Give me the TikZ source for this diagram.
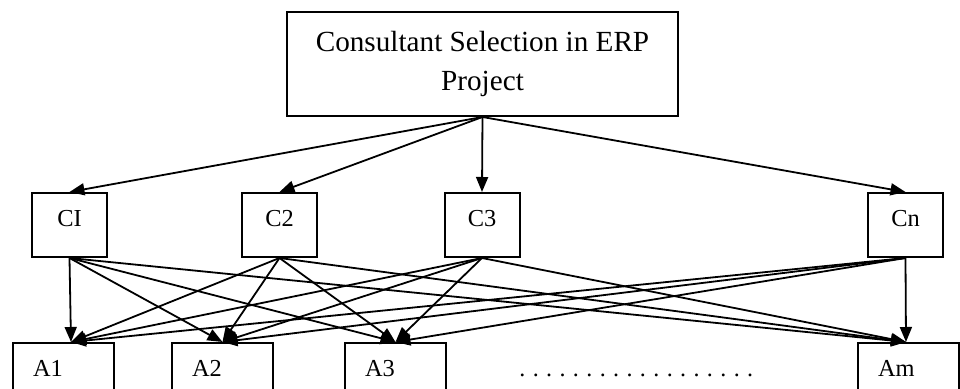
\documentclass[tikz,border=0pt]{standalone}
\usepackage{fontspec}
\setmainfont{Liberation Serif}
\usetikzlibrary{arrows.meta, positioning}
\tikzset{
  goalbox/.style={
    draw,
    line width=1pt,
    align=center,
    font=\fontsize{14.6}{19.5}\selectfont,
    minimum width=195.5pt,
    minimum height=52pt
  },
  critbox/.style={
    draw,
    line width=1pt,
    font=\fontsize{12.2}{14}\selectfont,
    text height=8pt,
    text depth=6pt,
    minimum width=37.5pt,
    minimum height=32pt
  },
  altbox/.style={
    draw,
    line width=1pt,
    anchor=north west,
    align=left,
    font=\fontsize{12.2}{14}\selectfont,
    inner xsep=10pt,
    text width=30.5pt,
    text height=8pt,
    text depth=0pt,
    minimum height=26pt
  },
  flowarrow/.style={
    -{Triangle[length=7.5pt, width=6pt]},
    line width=0.9pt
  }
}

\begin{document}
\begin{tikzpicture}[x=0.5pt, y=-0.5pt]

  \useasboundingbox (0,0) rectangle (960,389);

  % Goal
  \node (goal) [goalbox] at (482.5,64) {Consultant Selection in ERP\\Project};

  % Criteria
  \node (c1) [critbox] at (69.5,225) {CI};
  \node (c2) [critbox] at (279.5,225) {C2};
  \node (c3) [critbox] at (482,225) {C3};
  \node (cn) [critbox] at (905.5,225) {Cn};

  % Alternatives
  \node (a1) [altbox] at (12,342) {A1};
  \node (a2) [altbox] at (171,342) {A2};
  \node (a3) [altbox] at (344,342) {A3};
  \node (am) [altbox] at (857,342) {Am};

  \node (dots) [anchor=base west, inner sep=0pt, font=\fontsize{12}{14}\selectfont] at (519,377)
    {\foreach \i in {1,...,18}{.\hspace{3.7pt}}};

  % Entry points on the alternatives
  \coordinate (a1in) at ([xshift=3.75pt]a1.north);
  \coordinate (a2in) at (a2.north);
  \coordinate (a3in) at (a3.north);
  \coordinate (amin) at ([xshift=-1.25pt]am.north);

  % Connectors
  \foreach \c in {c1,c2,c3,cn}
    \draw [flowarrow] (goal.south) -- (\c.north);

  \foreach \c in {c1,c2,c3,cn}
    \foreach \a in {a1in,a2in,a3in,amin}
      \draw [flowarrow] (\c.south) -- (\a);

\end{tikzpicture}
\end{document}
